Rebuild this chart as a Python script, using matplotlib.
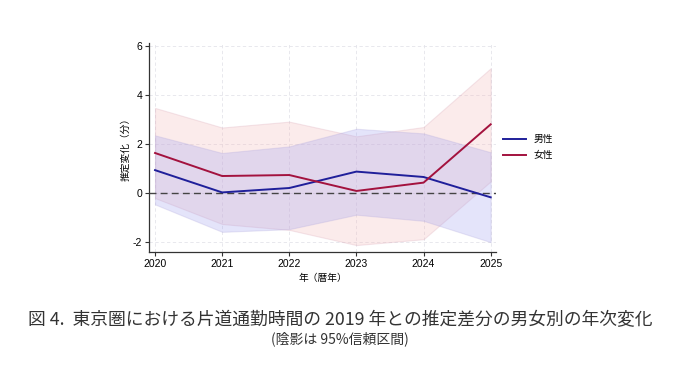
import matplotlib
matplotlib.use("Agg")
import matplotlib.pyplot as plt

years = [2020, 2021, 2022, 2023, 2024, 2025]
male = [0.95, 0.04, 0.22, 0.89, 0.67, -0.16]
male_hi = [2.37, 1.65, 1.92, 2.64, 2.45, 1.68]
male_lo = [-0.45, -1.57, -1.46, -0.87, -1.12, -1.99]
female = [1.65, 0.71, 0.75, 0.10, 0.44, 2.82]
female_hi = [3.49, 2.69, 2.93, 2.33, 2.71, 5.11]
female_lo = [-0.19, -1.25, -1.49, -2.11, -1.87, 0.49]
yticks = [-2, 0, 2, 4, 6]

plt.rcParams['font.family'] = ['Liberation Sans', 'Noto Sans CJK JP', 'DejaVu Sans']

fig = plt.figure(figsize=(6.8, 3.66), dpi=100)
ax = fig.add_axes([0.2196, 0.3123, 0.5104, 0.5702])

blue = '#1f1f9a'
red = '#a3123e'
ax.fill_between(years, female_lo, female_hi, facecolor='#f4b8b8', alpha=0.28,
                edgecolor='#d9a8b8', linewidth=0.8, zorder=2)
ax.fill_between(years, male_lo, male_hi, facecolor='#a0a0f0', alpha=0.28,
                edgecolor='#b0a8dc', linewidth=0.8, zorder=2)
ax.plot(years, male, color=blue, linewidth=1.4, label='男性', zorder=4)
ax.plot(years, female, color=red, linewidth=1.4, label='女性', zorder=4)
ax.axhline(0, color='#444444', linestyle=(0, (5, 3)), linewidth=1.0, zorder=3)

ax.set_xlim(2020 - 0.085, 2025 + 0.085)
ax.set_ylim(-2.38, 6.14)
ax.set_xticks(years)
ax.set_yticks(yticks)
ax.set_xticklabels([str(y) for y in years], fontsize=7.5)
ax.set_yticklabels([str(v) for v in yticks], fontsize=7.5)
ax.tick_params(length=3, width=0.8, color='#333333', pad=2)
for s in ['top', 'right']:
    ax.spines[s].set_visible(False)
for s in ['left', 'bottom']:
    ax.spines[s].set_color('#333333')
    ax.spines[s].set_linewidth(0.9)
ax.grid(True, color='#e4e4ea', linestyle=(0, (4, 3)), linewidth=0.6, zorder=0)
ax.set_axisbelow(True)

ax.set_ylabel('推定変化（分）', fontsize=7, family=['Noto Sans CJK JP'], labelpad=2)
ax.set_xlabel('年（暦年）', fontsize=7, family=['Noto Sans CJK JP'], labelpad=3)

leg = ax.legend(loc='center left', bbox_to_anchor=(0.995, 0.50), frameon=False,
                handlelength=2.3, labelspacing=0.6,
                prop={'family': ['Noto Sans CJK JP'], 'size': 7})

fig.text(0.5, 0.125, '図 4.  東京圏における片道通勤時間の 2019 年との推定差分の男女別の年次変化',
         ha='center', va='center', fontsize=12.8, family=['Noto Sans CJK JP'], color='#333333')
fig.text(0.5, 0.074, '(陰影は 95%信頼区間)', ha='center', va='center', fontsize=10,
         family=['Noto Sans CJK JP'], color='#333333')

fig.savefig('out.png', dpi=100)
